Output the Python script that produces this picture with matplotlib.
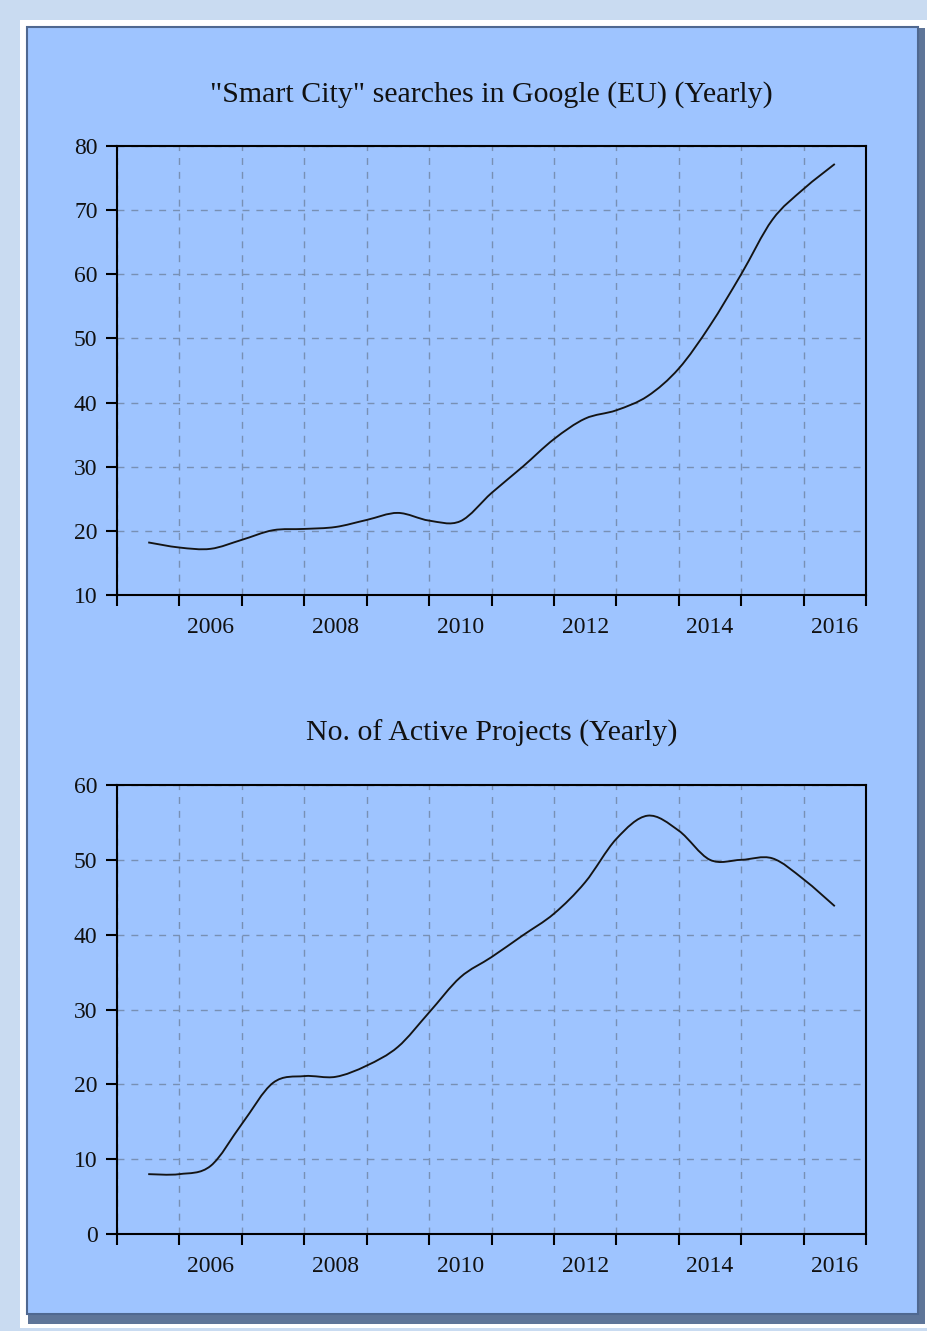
import numpy as np
import matplotlib.pyplot as plt
from matplotlib.path import Path
from matplotlib.patches import PathPatch, Rectangle
from matplotlib.ticker import MultipleLocator, FixedLocator, NullFormatter

# half-yearly readings from the reference
years = [2005.5, 2006.0, 2006.5, 2007.0, 2007.5, 2008.0, 2008.5, 2009.0,
         2009.5, 2010.0, 2010.5, 2011.0, 2011.5, 2012.0, 2012.5, 2013.0,
         2013.5, 2014.0, 2014.5, 2015.0, 2015.5, 2016.0, 2016.5]
searches = [18.2, 17.4, 17.2, 18.6, 20.1, 20.3, 20.6, 21.7,
            22.8, 21.6, 21.5, 25.9, 30.0, 34.3, 37.5, 38.8,
            41.0, 45.3, 52.0, 60.0, 68.5, 73.3, 77.2]
projects = [8.0, 8.0, 9.1, 14.7, 20.2, 21.1, 21.0, 22.5,
            25.0, 29.6, 34.3, 37.0, 39.9, 42.8, 47.0, 52.8,
            55.9, 53.9, 50.0, 50.0, 50.2, 47.4, 43.8]

label_years = [2006, 2008, 2010, 2012, 2014, 2016]

titles = ['"Smart City" searches in Google (EU) (Yearly)',
          'No. of Active Projects (Yearly)']

BG = '#9EC4FF'
W, H = 927, 1331

plt.rcParams['font.family'] = ['Liberation Serif', 'DejaVu Serif']


def smooth_path(x, y):
    # catmull-rom through the points, as cubic beziers
    x = np.asarray(x, float)
    y = np.asarray(y, float)
    px = np.concatenate([[x[0]], x, [x[-1]]])
    py = np.concatenate([[y[0]], y, [y[-1]]])
    verts = [(x[0], y[0])]
    codes = [Path.MOVETO]
    for i in range(1, len(px) - 2):
        c1 = (px[i] + (px[i + 1] - px[i - 1]) / 6, py[i] + (py[i + 1] - py[i - 1]) / 6)
        c2 = (px[i + 1] - (px[i + 2] - px[i]) / 6, py[i + 1] - (py[i + 2] - py[i]) / 6)
        verts += [c1, c2, (px[i + 1], py[i + 1])]
        codes += [Path.CURVE4] * 3
    return Path(verts, codes)


def frac(x0, y0, x1, y1):
    return (x0 / W, 1 - y1 / H, (x1 - x0) / W, (y1 - y0) / H)


fig = plt.figure(figsize=(W / 100, H / 100), dpi=100)
fig.patch.set_facecolor('#C9DBF1')

for (x0, y0, x1, y1), fc, ec in [((20, 20, 927, 1328), 'white', 'none'),
                                  ((28, 28, 925, 1324), '#5E7598', 'none'),
                                  ((27, 27, 918, 1314), BG, '#4F6890')]:
    l, b, w, h = frac(x0, y0, x1, y1)
    fig.patches.append(Rectangle((l, b), w, h, transform=fig.transFigure,
                                 facecolor=fc, edgecolor=ec, lw=1.5, zorder=-5))

series = [searches, projects]
ylims = [(10, 80), (0, 60)]
boxes = [(117, 146, 866, 595), (117, 785, 866, 1234)]

for vals, ylim, box, title in zip(series, ylims, boxes, titles):
    ax = fig.add_axes(frac(*box))
    ax.set_facecolor(BG)
    ax.add_patch(PathPatch(smooth_path(years, vals), fill=False,
                           edgecolor='#141414', lw=1.35, zorder=3))
    ax.set_xlim(2005, 2017)
    ax.set_ylim(*ylim)
    ax.yaxis.set_major_locator(MultipleLocator(10))
    ax.xaxis.set_major_locator(MultipleLocator(1))
    ax.xaxis.set_major_formatter(NullFormatter())
    ax.xaxis.set_minor_locator(FixedLocator([y + 0.5 for y in label_years]))
    ax.set_xticklabels([str(y) for y in label_years], minor=True)
    ax.tick_params(which='major', direction='out', length=8, width=1.5,
                   color='black', labelsize=17, pad=6, labelcolor='#111111')
    ax.tick_params(axis='x', which='minor', length=0, labelsize=17, pad=16,
                   labelcolor='#111111')
    ax.grid(True, which='major', color='#7890B4', ls=(0, (5, 5)), lw=1.0)
    for s in ax.spines.values():
        s.set_linewidth(1.5)
        s.set_color('black')
    ax.set_title(title, fontsize=21.5, pad=32, color='#111111')

plt.savefig('out.png', dpi=100, facecolor=fig.get_facecolor())
